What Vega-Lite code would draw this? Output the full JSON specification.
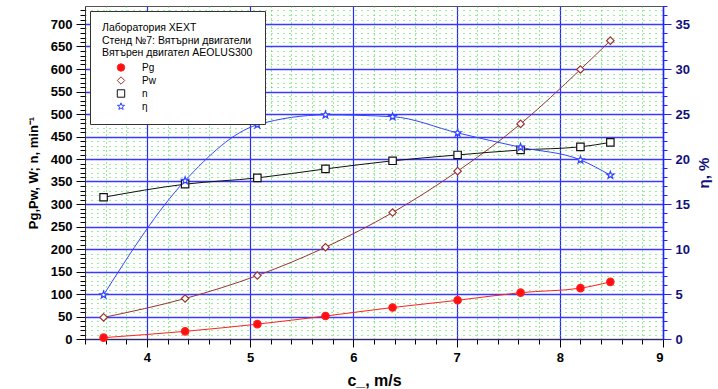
{
  "$schema": "https://vega.github.io/schema/vega-lite/v6.json",
  "width": 578,
  "height": 333,
  "autosize": {"type": "none"},
  "padding": {"left": 85, "top": 6, "right": 55, "bottom": 50},
  "background": "white",
  "config": {
    "font": "Liberation Sans",
    "view": {"stroke": "#555555", "strokeWidth": 1},
    "axis": {"labelFont": "Liberation Sans", "titleFont": "Liberation Sans"}
  },
  "data": {
    "values": [
      {"c": 3.58, "series": "Pg", "v": 3},
      {"c": 4.37, "series": "Pg", "v": 17},
      {"c": 5.07, "series": "Pg", "v": 33},
      {"c": 5.73, "series": "Pg", "v": 51},
      {"c": 6.38, "series": "Pg", "v": 70},
      {"c": 7.01, "series": "Pg", "v": 86},
      {"c": 7.62, "series": "Pg", "v": 103},
      {"c": 8.20, "series": "Pg", "v": 113},
      {"c": 8.49, "series": "Pg", "v": 127},
      {"c": 3.58, "series": "Pw", "v": 48},
      {"c": 4.37, "series": "Pw", "v": 90},
      {"c": 5.07, "series": "Pw", "v": 141},
      {"c": 5.73, "series": "Pw", "v": 204},
      {"c": 6.38, "series": "Pw", "v": 281},
      {"c": 7.01, "series": "Pw", "v": 373},
      {"c": 7.62, "series": "Pw", "v": 478},
      {"c": 8.20, "series": "Pw", "v": 599},
      {"c": 8.49, "series": "Pw", "v": 663},
      {"c": 3.58, "series": "n", "v": 315},
      {"c": 4.37, "series": "n", "v": 344},
      {"c": 5.07, "series": "n", "v": 358},
      {"c": 5.73, "series": "n", "v": 378},
      {"c": 6.38, "series": "n", "v": 396},
      {"c": 7.01, "series": "n", "v": 409},
      {"c": 7.62, "series": "n", "v": 420},
      {"c": 8.20, "series": "n", "v": 427},
      {"c": 8.49, "series": "n", "v": 437},
      {"c": 3.58, "series": "η", "v": 4.9},
      {"c": 4.37, "series": "η", "v": 17.6},
      {"c": 5.07, "series": "η", "v": 23.8},
      {"c": 5.73, "series": "η", "v": 24.9},
      {"c": 6.38, "series": "η", "v": 24.7},
      {"c": 7.01, "series": "η", "v": 22.9},
      {"c": 7.62, "series": "η", "v": 21.3},
      {"c": 8.20, "series": "η", "v": 19.9},
      {"c": 8.49, "series": "η", "v": 18.2}
    ]
  },
  "resolve": {
    "scale": {"y": "independent"},
    "axis": {"x": "independent", "y": "independent"}
  },
  "layer": [
    {
      "transform": [{"filter": "datum.series !== 'η'"}],
      "mark": {"type": "line", "interpolate": "monotone", "strokeWidth": 1},
      "encoding": {
        "x": {
          "field": "c", "type": "quantitative",
          "scale": {"domain": [3.4, 9], "nice": false, "zero": false},
          "axis": {
            "orient": "bottom",
            "values": [3.4, 3.6, 3.8, 4.0, 4.2, 4.4, 4.6, 4.8, 5.0, 5.2, 5.4, 5.6, 5.8, 6.0, 6.2, 6.4, 6.6, 6.8, 7.0, 7.2, 7.4, 7.6, 7.8, 8.0, 8.2, 8.4, 8.6, 8.8, 9.0],
            "grid": true, "gridColor": "#33dd33", "gridDash": [1, 3], "gridWidth": 1,
            "labels": false, "ticks": true, "tickSize": 5, "tickColor": "#000000",
            "domain": false, "title": null
          }
        },
        "y": {
          "field": "v", "type": "quantitative",
          "scale": {"domain": [0, 740], "nice": false, "zero": true},
          "axis": {
            "orient": "left",
            "values": [0, 10, 20, 30, 40, 50, 60, 70, 80, 90, 100, 110, 120, 130, 140, 150, 160, 170, 180, 190, 200, 210, 220, 230, 240, 250, 260, 270, 280, 290, 300, 310, 320, 330, 340, 350, 360, 370, 380, 390, 400, 410, 420, 430, 440, 450, 460, 470, 480, 490, 500, 510, 520, 530, 540, 550, 560, 570, 580, 590, 600, 610, 620, 630, 640, 650, 660, 670, 680, 690, 700, 710, 720, 730],
            "grid": true, "gridColor": "#33dd33", "gridDash": [1, 5], "gridWidth": 1,
            "labels": false, "ticks": true, "tickSize": 5, "tickColor": "#000000",
            "domain": false, "title": null
          }
        },
        "detail": {"field": "series"},
        "stroke": {
          "field": "series", "type": "nominal",
          "scale": {"domain": ["Pg", "Pw", "n", "η"], "range": ["#ff2020", "#993333", "#111111", "#3344ff"]}
        }
      }
    },
    {
      "transform": [{"filter": "datum.series === 'η'"}],
      "mark": {"type": "line", "interpolate": "monotone", "strokeWidth": 1, "stroke": "#3344ff"},
      "encoding": {
        "x": {"field": "c", "type": "quantitative", "scale": {"domain": [3.4, 9], "nice": false, "zero": false}, "axis": null},
        "y": {
          "field": "v", "type": "quantitative",
          "scale": {"domain": [0, 37], "nice": false, "zero": true},
          "axis": {
            "orient": "right",
            "values": [0, 1, 2, 3, 4, 5, 6, 7, 8, 9, 10, 11, 12, 13, 14, 15, 16, 17, 18, 19, 20, 21, 22, 23, 24, 25, 26, 27, 28, 29, 30, 31, 32, 33, 34, 35, 36, 37],
            "grid": false, "labels": false, "ticks": true, "tickSize": 4, "tickColor": "#2222ff",
            "domain": false, "title": null
          }
        }
      }
    },
    {
      "transform": [{"filter": "datum.series !== 'η'"}],
      "mark": {"type": "point", "size": 55, "strokeWidth": 1.2, "opacity": 1},
      "encoding": {
        "x": {
          "field": "c", "type": "quantitative",
          "scale": {"domain": [3.4, 9], "nice": false, "zero": false},
          "axis": {
            "orient": "bottom",
            "values": [4, 5, 6, 7, 8, 9],
            "grid": true, "gridColor": "#2a2aff", "gridWidth": 1.2,
            "ticks": true, "tickSize": 8, "tickColor": "#000000",
            "domain": true, "domainColor": "#333333",
            "labelFontSize": 13, "labelFontWeight": "bold", "labelColor": "#000000", "labelPadding": 4,
            "title": "c_, m/s", "titleFontSize": 16, "titleFontWeight": "bold", "titleColor": "#000000", "titlePadding": 8
          }
        },
        "y": {
          "field": "v", "type": "quantitative",
          "scale": {"domain": [0, 740], "nice": false, "zero": true},
          "axis": {
            "orient": "left",
            "values": [0, 50, 100, 150, 200, 250, 300, 350, 400, 450, 500, 550, 600, 650, 700],
            "grid": true, "gridColor": "#3a3aff", "gridWidth": 1.3,
            "ticks": true, "tickSize": 9, "tickColor": "#000000",
            "domain": true, "domainColor": "#333333",
            "labelFontSize": 13, "labelFontWeight": "bold", "labelColor": "#000000", "labelPadding": 4,
            "title": "Pg,Pw, W; n, min⁻¹", "titleFontSize": 13, "titleFontWeight": "bold", "titleColor": "#000000", "titlePadding": 10
          }
        },
        "stroke": {"field": "series", "type": "nominal", "scale": {"domain": ["Pg", "Pw", "n", "η"], "range": ["#ff2020", "#993333", "#111111", "#3344ff"]}},
        "fill": {"field": "series", "type": "nominal", "scale": {"domain": ["Pg", "Pw", "n", "η"], "range": ["#ff1010", "#ffffff", "#ffffff", "#ffffff"]}},
        "shape": {
          "field": "series", "type": "nominal",
          "scale": {"domain": ["Pg", "Pw", "n", "η"], "range": ["circle", "diamond", "square", "M0,-1L0.235,-0.324L0.951,-0.309L0.380,0.124L0.588,0.809L0,0.4L-0.588,0.809L-0.380,0.124L-0.951,-0.309L-0.235,-0.324Z"]},
          "legend": {
            "orient": "top-left", "offset": 5,
            "title": ["Лаборатория ХЕХТ", "Стенд №7: Вятърни двигатели", "Вятърен двигател AEOLUS300"],
            "titleFontSize": 10.5, "titleFontWeight": "normal", "titleColor": "#000000", "titleLineHeight": 12.5, "titlePadding": 4,
            "labelFontSize": 10, "labelColor": "#000000", "labelOffset": 16,
            "symbolSize": 55, "symbolStrokeWidth": 1, "symbolOffset": 14, "rowPadding": 1,
            "padding": 12, "fillColor": "#ffffff", "strokeColor": "#333333"
          }
        }
      }
    },
    {
      "transform": [{"filter": "datum.series === 'η'"}],
      "mark": {"type": "point", "size": 60, "strokeWidth": 1.2, "opacity": 1, "stroke": "#3344ff", "fill": "#ffffff", "filled": false, "shape": "M0,-1L0.235,-0.324L0.951,-0.309L0.380,0.124L0.588,0.809L0,0.4L-0.588,0.809L-0.380,0.124L-0.951,-0.309L-0.235,-0.324Z"},
      "encoding": {
        "x": {"field": "c", "type": "quantitative", "scale": {"domain": [3.4, 9], "nice": false, "zero": false}, "axis": null},
        "y": {
          "field": "v", "type": "quantitative",
          "scale": {"domain": [0, 37], "nice": false, "zero": true},
          "axis": {
            "orient": "right",
            "values": [0, 5, 10, 15, 20, 25, 30, 35],
            "grid": false, "ticks": true, "tickSize": 8, "tickColor": "#2222ff",
            "domain": true, "domainColor": "#2222ff", "domainWidth": 1.5,
            "labelFontSize": 13, "labelFontWeight": "bold", "labelColor": "#10107a", "labelPadding": 4,
            "title": "η, %", "titleFontSize": 15, "titleFontWeight": "bold", "titleColor": "#10107a", "titleAngle": -90, "titlePadding": 22
          }
        }
      }
    }
  ]
}
